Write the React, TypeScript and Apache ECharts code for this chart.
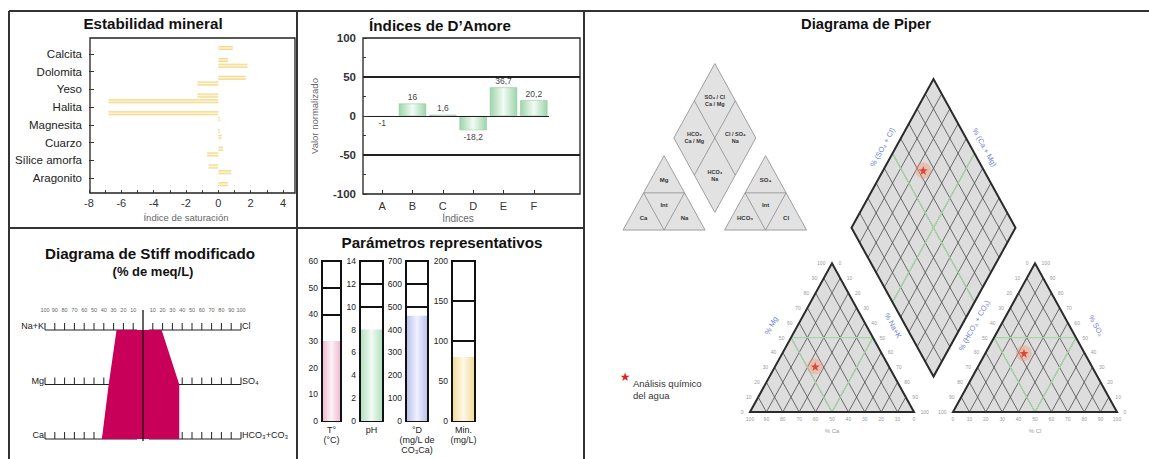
import React, { useEffect, useRef } from 'react';
import * as echarts from 'echarts';

// ---------------- Data ----------------
const minerals = ['Calcita', 'Dolomita', 'Yeso', 'Halita', 'Magnesita', 'Cuarzo', 'Sílice amorfa', 'Aragonito'];
const saturationIndex1 = [0.9, 1.8, -1.3, -6.8, 0.1, 0.2, -0.7, 0.8];
const saturationIndex2 = [0.6, 1.7, -1.3, -6.8, 0.1, 0.3, -0.6, 0.6];

const amoreIndices = ['A', 'B', 'C', 'D', 'E', 'F'];
const amoreValues = [-1, 16, 1.6, -18.2, 36.7, 20.2];
const amoreLimits = [50, -50];

const paramLabels = ['T°\n(°C)', 'pH', '°D\n(mg/L de\nCO₃Ca)', 'Min.\n(mg/L)'];
const paramValues = [30, 8, 460, 80];
const paramMax = [60, 14, 700, 200];
const paramStep = [10, 2, 100, 50];
const paramMarks = [[40, 50], [10, 12], [500, 600], [100, 150]];

const stiffCations = ['Na+K', 'Mg', 'Ca'];
const stiffAnions = ['Cl', 'SO₄', 'HCO₃+CO₃'];
const stiffCationPct = [27, 35, 42];
const stiffAnionPct = [19, 37, 37];
const stiffScale = [10, 20, 30, 40, 50, 60, 70, 80, 90, 100];

// Piper (% meq/L)
const piperCationPct = { Ca: 45, Mg: 30.5, NaK: 24.5 };
const piperAnionPct = { HCO3: 37, SO4: 39.5, Cl: 23.5 };
const piperTicks = [0, 10, 20, 30, 40, 50, 60, 70, 80, 90, 100];

// ---------------- Styling helpers ----------------
const FONT = '"Liberation Sans", Arial, sans-serif';
const hGrad = (c: string, mid: string) =>
  new echarts.graphic.LinearGradient(0, 0, 1, 0, [
    { offset: 0, color: c }, { offset: 0.5, color: mid }, { offset: 1, color: c },
  ]);
const vGrad = (c: string, mid: string) =>
  new echarts.graphic.LinearGradient(0, 0, 0, 1, [
    { offset: 0, color: c }, { offset: 0.5, color: mid }, { offset: 1, color: c },
  ]);
const paramColors = [
  ['#f0bcd0', '#fdf2f6'],
  ['#b6e0c2', '#f0fbf3'],
  ['#bcc3ef', '#f0f1fd'],
  ['#f3dd9c', '#fdf8e8'],
];
const paramGrids = [
  { left: 322, width: 19 },
  { left: 360, width: 23 },
  { left: 406, width: 22 },
  { left: 452, width: 23 },
];

// ---------------- Piper geometry (units: triangle side = 100) ----------------
const R3 = Math.sqrt(3) / 2;
const GAP = 23.8;
type Pt = number[];
const add = (p: Pt, v: Pt, s: number): Pt => [p[0] + v[0] * s, p[1] + v[1] * s];
const lerp = (a: Pt, b: Pt, t: number): Pt => [a[0] + (b[0] - a[0]) * t, a[1] + (b[1] - a[1]) * t];
const TRI_L: Pt[] = [[0, 0], [100, 0], [50, 100 * R3]];
const TRI_R: Pt[] = [[100 + GAP, 0], [200 + GAP, 0], [150 + GAP, 100 * R3]];
const U1: Pt = [-0.5, R3];
const U2: Pt = [0.5, R3];
const DB: Pt = [100 + GAP / 2, GAP * R3];
const DIA: Pt[] = [DB, add(DB, U1, 100), add(add(DB, U1, 100), U2, 100), add(DB, U2, 100)];

const cationPoint: Pt = [piperCationPct.NaK + piperCationPct.Mg / 2, piperCationPct.Mg * R3];
const anionPoint: Pt = [100 + GAP + piperAnionPct.Cl + piperAnionPct.SO4 / 2, piperAnionPct.SO4 * R3];
const diamondPoint: Pt = add(
  add(DB, U1, 100 - piperCationPct.NaK),
  U2,
  piperAnionPct.Cl + piperAnionPct.SO4
);
const piperPoints = [cationPoint, anionPoint, diamondPoint];

const STAR = 'path://M0,-10L2.35,-3.24L9.51,-3.09L3.8,1.24L5.88,8.09L0,4L-5.88,8.09L-3.8,1.24L-9.51,-3.09L-2.35,-3.24Z';

function txt(p: Pt, text: string, o: any = {}) {
  return {
    type: 'text',
    x: p[0],
    y: p[1],
    rotation: o.rot || 0,
    silent: true,
    style: {
      text,
      fill: o.color || '#999',
      fontSize: o.size || 5,
      fontFamily: FONT,
      fontWeight: o.bold ? 'bold' : 'normal',
      align: o.align || 'center',
      textAlign: o.align || 'center',
      verticalAlign: 'middle',
      textVerticalAlign: 'middle',
      lineHeight: o.lh || undefined,
    },
  };
}
function ln(a: Pt, b: Pt, stroke: string, w: number) {
  return { type: 'line', silent: true, shape: { x1: a[0], y1: a[1], x2: b[0], y2: b[1] }, style: { stroke, lineWidth: w } };
}
function poly(pts: Pt[], fill: string, stroke: string, w: number) {
  return { type: 'polygon', silent: true, shape: { points: pts }, style: { fill, stroke, lineWidth: w } };
}

function piperRender(params: any, api: any) {
  const P = (p: Pt): Pt => api.coord(p);
  const ch: any[] = [];
  const SX = -77.4, SY = 105.9;
  const S = (p: Pt): Pt => P([SX + p[0] * 0.5, SY + p[1] * 0.5]);

  // --- schematic ---
  const schemTri = (t: Pt[], labels: string[]) => {
    const [A, B, C] = t;
    const mAB = lerp(A, B, 0.5), mAC = lerp(A, C, 0.5), mBC = lerp(B, C, 0.5);
    ch.push(poly(t.map(S), '#e2e2e2', '#8a8a8a', 0.8));
    ch.push(ln(S(mAC), S(mBC), '#8a8a8a', 0.8));
    ch.push(ln(S(mAC), S(mAB), '#8a8a8a', 0.8));
    ch.push(ln(S(mBC), S(mAB), '#8a8a8a', 0.8));
    const cen = (a: Pt, b: Pt, c: Pt): Pt => [(a[0] + b[0] + c[0]) / 3, (a[1] + b[1] + c[1]) / 3];
    ch.push(txt(S(cen(mAC, mBC, C)), labels[0], { size: 6, bold: true, color: '#333' }));
    ch.push(txt(S(cen(mAC, mBC, mAB)), labels[1], { size: 6, bold: true, color: '#333' }));
    ch.push(txt(S(cen(A, mAB, mAC)), labels[2], { size: 6, bold: true, color: '#333' }));
    ch.push(txt(S(cen(mAB, B, mBC)), labels[3], { size: 6, bold: true, color: '#333' }));
  };
  schemTri(TRI_L, ['Mg', 'Int', 'Ca', 'Na']);
  schemTri(TRI_R, ['SO₄', 'Int', 'HCO₃', 'Cl']);
  ch.push(poly(DIA.map(S), '#e2e2e2', '#8a8a8a', 0.8));
  ch.push(ln(S(lerp(DIA[0], DIA[1], 0.5)), S(lerp(DIA[3], DIA[2], 0.5)), '#8a8a8a', 0.8));
  ch.push(ln(S(lerp(DIA[0], DIA[3], 0.5)), S(lerp(DIA[1], DIA[2], 0.5)), '#8a8a8a', 0.8));
  const dc = (s1: number, s2: number): Pt => add(add(DB, U1, s1), U2, s2);
  ch.push(txt(S(dc(75, 75)), 'SO₄ / Cl\nCa / Mg', { size: 5.5, bold: true, color: '#333', lh: 7 }));
  ch.push(txt(S(dc(75, 25)), 'HCO₃\nCa / Mg', { size: 5.5, bold: true, color: '#333', lh: 7 }));
  ch.push(txt(S(dc(25, 75)), 'Cl / SO₄\nNa', { size: 5.5, bold: true, color: '#333', lh: 7 }));
  ch.push(txt(S(dc(25, 25)), 'HCO₃\nNa', { size: 5.5, bold: true, color: '#333', lh: 7 }));

  // --- main diagram ---
  const GRIDC = '#4a4a4a', GREEN = '#a6d8a6';
  const mainTri = (t: Pt[]) => {
    const [A, B, C] = t;
    ch.push(poly(t.map(P), '#dddddd', 'none', 0));
    for (let k = 1; k < 10; k++) {
      const s = k / 10;
      const base = lerp(A, B, s);
      ch.push(ln(P(base), P(add(base, [C[0] - A[0], C[1] - A[1]], 1 - s)), GRIDC, 0.8));
      ch.push(ln(P(base), P(lerp(A, C, s)), GRIDC, 0.8));
    }
    const mAB = lerp(A, B, 0.5), mAC = lerp(A, C, 0.5), mBC = lerp(B, C, 0.5);
    ch.push(ln(P(mAC), P(mBC), GREEN, 1.2));
    ch.push(ln(P(mAC), P(mAB), GREEN, 1.2));
    ch.push(ln(P(mBC), P(mAB), GREEN, 1.2));
    ch.push(poly(t.map(P), 'none', '#2a2a2a', 2));
  };
  mainTri(TRI_L);
  mainTri(TRI_R);
  ch.push(poly(DIA.map(P), '#dddddd', 'none', 0));
  for (let k = 1; k < 10; k++) {
    const a = add(DB, U1, k * 10);
    ch.push(ln(P(a), P(add(a, U2, 100)), GRIDC, 0.8));
    const b = add(DB, U2, k * 10);
    ch.push(ln(P(b), P(add(b, U1, 100)), GRIDC, 0.8));
  }
  ch.push(ln(P(lerp(DIA[0], DIA[1], 0.5)), P(lerp(DIA[3], DIA[2], 0.5)), GREEN, 1.2));
  ch.push(ln(P(lerp(DIA[0], DIA[3], 0.5)), P(lerp(DIA[1], DIA[2], 0.5)), GREEN, 1.2));
  ch.push(poly(DIA.map(P), 'none', '#2a2a2a', 2));

  // tick labels
  const TK = '#9a9a9a';
  piperTicks.forEach((v, k) => {
    ch.push(txt(P([v, -4]), String(100 - v), { color: TK }));
    ch.push(txt(P([5 * k - 4, 8.66 * k]), String(v), { color: TK, align: 'right' }));
    ch.push(txt(P([100 - 5 * k + 4, 8.66 * k]), String(100 - v), { color: TK, align: 'left' }));
    ch.push(txt(P([100 + GAP + v, -4]), String(v), { color: TK }));
    ch.push(txt(P([100 + GAP + 5 * k - 4, 8.66 * k]), String(100 - v), { color: TK, align: 'right' }));
    ch.push(txt(P([200 + GAP - 5 * k + 4, 8.66 * k]), String(v), { color: TK, align: 'left' }));
  });
  const BLUE = '#6f82cf';
  const rot = (61 * Math.PI) / 180;
  const nL: Pt = [-R3, 0.5], nR: Pt = [R3, 0.5];
  ch.push(txt(P(add([25, 50 * R3], nL, 14)), '% Mg', { color: BLUE, size: 7.5, rot }));
  ch.push(txt(P(add([75, 50 * R3], nR, 14)), '% Na+K', { color: BLUE, size: 7.5, rot: -rot }));
  ch.push(txt(P([50, -11]), '% Ca', { color: TK, size: 6 }));
  ch.push(txt(P(add([125 + GAP, 50 * R3], nL, 14)), '% (HCO₃ + CO₃)', { color: BLUE, size: 7.5, rot }));
  ch.push(txt(P(add([175 + GAP, 50 * R3], nR, 14)), '% SO₄', { color: BLUE, size: 7.5, rot: -rot }));
  ch.push(txt(P([150 + GAP, -11]), '% Cl', { color: TK, size: 6 }));
  ch.push(txt(P(add(lerp(DIA[1], DIA[2], 0.5), nL, 7)), '% (SO₄ + Cl)', { color: BLUE, size: 7.5, rot }));
  ch.push(txt(P(add(lerp(DIA[3], DIA[2], 0.5), nR, 7)), '% (Ca + Mg)', { color: BLUE, size: 7.5, rot: -rot }));

  return { type: 'group', children: ch };
}

function stiffRender(params: any, api: any) {
  const c = (x: number, r: number): Pt => api.coord([x, r]);
  const ch: any[] = [];
  for (let r = 0; r < 3; r++) {
    for (const side of [-1, 1]) {
      ch.push(ln(c(side * 100, r), c(side * 6, r), '#222', 1.2));
      stiffScale.forEach((v) => {
        const p = c(side * v, r);
        ch.push(ln(p, [p[0], p[1] - 7], '#222', 1));
      });
    }
    const pl = c(-100, r), pr = c(100, r);
    ch.push(txt([pl[0] - 1, pl[1] - 4], stiffCations[r], { color: '#222', size: 9, align: 'right' }));
    ch.push(txt([pr[0] + 1, pr[1] - 4], stiffAnions[r], { color: '#222', size: 9, align: 'left' }));
  }
  stiffScale.forEach((v) => {
    const pl = c(-v, 0), pr = c(v, 0);
    ch.push(txt([pl[0], pl[1] - 20], String(v), { color: '#666', size: 5.5 }));
    ch.push(txt([pr[0], pr[1] - 20], String(v), { color: '#666', size: 5.5 }));
  });
  const pts = [
    c(-stiffCationPct[0], 0), c(stiffAnionPct[0], 0), c(stiffAnionPct[1], 1),
    c(stiffAnionPct[2], 2), c(-stiffCationPct[2], 2), c(-stiffCationPct[1], 1),
  ];
  ch.push(poly(pts, '#c8005a', 'none', 0));
  const top = c(0, 0), bot = c(0, 2);
  ch.push(ln([top[0], top[1] - 20], [bot[0], bot[1] + 2], '#111', 1.3));
  return { type: 'group', children: ch };
}

function buildOption(): any {
  const grid: any[] = [
    { left: 90, top: 38, width: 205, height: 155, show: true, borderColor: '#222', borderWidth: 1.3, backgroundColor: 'transparent' },
    { left: 89, top: 45.1, width: 194, height: 142 },
    { left: 363, top: 38, width: 217, height: 156, show: true, borderColor: '#222', borderWidth: 1.3, backgroundColor: 'transparent' },
    { left: 367, top: 38, width: 182, height: 156 },
    ...paramGrids.map((g) => ({ left: g.left, width: g.width, top: 261, height: 160, show: true, borderColor: '#111', borderWidth: 2, backgroundColor: 'transparent' })),
    { left: 45, top: 330, width: 196, height: 109 },
    { left: 750, top: 79, width: 367, height: 333 },
  ];
  const hiddenX = (gi: number) => ({ gridIndex: gi, type: 'value', show: false, min: 0, max: 1 });
  const hiddenY = (gi: number) => ({ gridIndex: gi, type: 'value', show: false, min: 0, max: 1 });

  const xAxis: any[] = [
    hiddenX(0),
    {
      gridIndex: 1, type: 'value', min: -8, max: 4, interval: 2, offset: 6,
      axisLine: { show: false },
      axisTick: { show: true, inside: true, length: 3, lineStyle: { color: '#333' } },
      minorTick: { show: true, splitNumber: 2, length: 3, lineStyle: { color: '#333' } },
      splitLine: { show: false }, minorSplitLine: { show: false },
      axisLabel: { fontSize: 11, color: '#333', margin: 4 },
      name: 'Índice de saturación', nameLocation: 'middle', nameGap: 19,
      nameTextStyle: { fontSize: 9.5, color: '#666' },
    },
    hiddenX(2),
    {
      gridIndex: 3, type: 'category', data: amoreIndices,
      axisLine: { show: false, onZero: false },
      axisTick: { show: true, inside: true, alignWithLabel: true, length: 4, lineStyle: { color: '#333' } },
      axisLabel: { fontSize: 11, color: '#333', margin: 6 },
      name: 'Índices', nameLocation: 'middle', nameGap: 19,
      nameTextStyle: { fontSize: 10, color: '#666' },
    },
    ...paramLabels.map((lab, i) => ({
      gridIndex: 4 + i, type: 'category', data: [lab],
      axisLine: { show: false, onZero: false }, axisTick: { show: false },
      axisLabel: { interval: 0, fontSize: 9, lineHeight: 10, margin: 4, color: '#222' },
    })),
    { gridIndex: 8, type: 'value', show: false, min: -100, max: 100 },
    { gridIndex: 9, type: 'value', show: false, min: 0, max: 200 + GAP },
  ];
  const yAxis: any[] = [
    hiddenY(0),
    {
      gridIndex: 1, type: 'category', data: minerals, inverse: true,
      axisLine: { show: false, onZero: false },
      axisTick: { show: true, inside: true, alignWithLabel: true, length: 5, lineStyle: { color: '#333' } },
      axisLabel: { fontSize: 11.5, color: '#222', margin: 7 },
    },
    {
      gridIndex: 2, type: 'value', min: -100, max: 100, interval: 50,
      axisLine: { show: false },
      axisTick: { show: true, inside: true, length: 4, lineStyle: { color: '#333' } },
      minorTick: { show: true, splitNumber: 2, length: 3, lineStyle: { color: '#333' } },
      splitLine: { show: false }, minorSplitLine: { show: false },
      axisLabel: { fontSize: 11.5, fontWeight: 'bold', color: '#333', margin: 7 },
      name: 'Valor normalizado', nameLocation: 'middle', nameGap: 44,
      nameTextStyle: { fontSize: 9.5, color: '#666' },
    },
    { gridIndex: 3, type: 'value', show: false, min: -100, max: 100 },
    ...paramMax.map((mx, i) => ({
      gridIndex: 4 + i, type: 'value', min: 0, max: mx, interval: paramStep[i],
      axisLine: { show: false }, axisTick: { show: false }, splitLine: { show: false },
      axisLabel: { fontSize: 8.5, color: '#222', margin: 4 },
    })),
    { gridIndex: 8, type: 'value', show: false, min: 0, max: 2, inverse: true },
    { gridIndex: 9, type: 'value', show: false, min: 0, max: DIA[2][1] },
  ];

  const series: any[] = [
    {
      type: 'bar', xAxisIndex: 1, yAxisIndex: 1, data: saturationIndex1, barWidth: 4, barGap: '200%',
      itemStyle: { color: vGrad('#efcf72', '#fff6da') }, silent: true,
    },
    {
      type: 'bar', xAxisIndex: 1, yAxisIndex: 1, data: saturationIndex2, barWidth: 4, barGap: '200%',
      itemStyle: { color: vGrad('#efcf72', '#fff6da') }, silent: true,
    },
    {
      type: 'line', xAxisIndex: 2, yAxisIndex: 2, data: [], silent: true,
      markLine: {
        silent: true, symbol: ['none', 'none'], label: { show: false },
        lineStyle: { color: '#222', width: 2, type: 'solid' },
        data: amoreLimits.map((v) => ({ yAxis: v })),
      },
    },
    {
      type: 'bar', xAxisIndex: 3, yAxisIndex: 3, barCategoryGap: '10%', silent: true,
      data: amoreValues.map((v) => ({ value: v, label: { position: v < 0 ? 'bottom' : 'top' } })),
      itemStyle: { color: hGrad('#9ed5ab', '#f2fbf4'), borderColor: '#8cc59a', borderWidth: 0.5 },
      label: {
        show: true, fontSize: 8.5, color: '#444', distance: 2,
        formatter: (p: any) => String(p.value).replace('.', ','),
      },
      markLine: {
        silent: true, symbol: ['none', 'none'], label: { show: false },
        lineStyle: { color: '#222', width: 1, type: 'solid' },
        data: [{ yAxis: 0 }],
      },
    },
    ...paramValues.map((v, i) => ({
      type: 'bar', xAxisIndex: 4 + i, yAxisIndex: 4 + i, data: [v], barWidth: paramGrids[i].width - 2, silent: true,
      itemStyle: { color: hGrad(paramColors[i][0], paramColors[i][1]) },
      markLine: {
        silent: true, symbol: ['none', 'none'], label: { show: false },
        lineStyle: { color: '#111', width: 2, type: 'solid' },
        data: paramMarks[i].map((m) => ({ yAxis: m })),
      },
    })),
    {
      type: 'custom', xAxisIndex: 8, yAxisIndex: 8, data: [[0, 0]], silent: true, clip: false,
      renderItem: stiffRender,
    },
    {
      type: 'custom', xAxisIndex: 9, yAxisIndex: 9, data: [[0, 0]], silent: true, clip: false,
      renderItem: piperRender, z: 1,
    },
    {
      type: 'scatter', xAxisIndex: 9, yAxisIndex: 9, data: piperPoints, symbolSize: 16, silent: true, z: 3,
      itemStyle: { color: 'rgba(245,150,110,0.5)' },
    },
    {
      type: 'scatter', xAxisIndex: 9, yAxisIndex: 9, data: piperPoints, symbol: STAR, symbolSize: 9, silent: true, z: 4,
      itemStyle: { color: '#d8281e' },
    },
  ];

  const title = (x: number, y: number, text: string, size = 15.2) => ({
    type: 'text', x, y, silent: true, z: 10,
    style: {
      text, fill: '#111', fontSize: size, fontWeight: 'bold', fontFamily: FONT,
      align: 'center', textAlign: 'center', verticalAlign: 'middle', textVerticalAlign: 'middle',
    },
  });
  const bl = (x1: number, y1: number, x2: number, y2: number) => ({
    type: 'line', silent: true, z: 20, shape: { x1, y1, x2, y2 }, style: { stroke: '#333', lineWidth: 2 },
  });

  const graphic: any[] = [
    bl(9, 11, 1149, 11),
    bl(9, 11, 9, 459),
    bl(297, 11, 297, 459),
    bl(584, 11, 584, 459),
    bl(9, 228, 584, 228),
    title(153, 23, 'Estabilidad mineral'),
    title(440, 25, 'Índices de D\u2019Amore'),
    title(150, 253, 'Diagrama de Stiff modificado'),
    title(153, 271, '(% de meq/L)', 13),
    title(442, 242, 'Parámetros representativos'),
    title(866, 24, 'Diagrama de Piper', 14.8),
    {
      type: 'text', x: 625, y: 377, silent: true, z: 10,
      style: { text: '★', fill: '#d8281e', fontSize: 12, fontFamily: '"DejaVu Sans", sans-serif', align: 'center', textAlign: 'center', verticalAlign: 'middle', textVerticalAlign: 'middle' },
    },
    {
      type: 'text', x: 633, y: 377, silent: true, z: 10,
      style: { text: 'Análisis químico\ndel agua', fill: '#333', fontSize: 9.5, lineHeight: 12, fontFamily: FONT, align: 'left', textAlign: 'left', verticalAlign: 'top', textVerticalAlign: 'top' },
    },
  ];

  return {
    animation: false,
    backgroundColor: '#ffffff',
    textStyle: { fontFamily: FONT },
    grid, xAxis, yAxis, series, graphic,
  };
}

export default function App() {
  const ref = useRef<HTMLDivElement>(null);
  useEffect(() => {
    if (!ref.current) return;
    const chart = echarts.init(ref.current, null, { renderer: 'svg' });
    chart.setOption(buildOption());
    return () => chart.dispose();
  }, []);
  return (
    <div
      ref={ref}
      style={{ position: 'fixed', left: 0, top: 0, width: 1149, height: 459, background: '#fff' }}
    />
  );
}
